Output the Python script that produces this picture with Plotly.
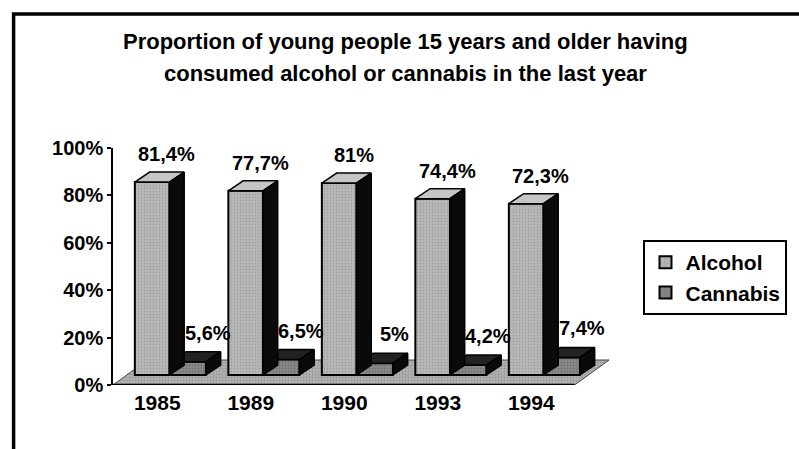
import plotly.graph_objects as go

# Survey results: share of people aged 15+ who used each substance in the past year (%)
years = ["1985", "1989", "1990", "1993", "1994"]
alcohol = [81.4, 77.7, 81.0, 74.4, 72.3]
cannabis = [5.6, 6.5, 5.0, 4.2, 7.4]
alcohol_labels = ["81,4%", "77,7%", "81%", "74,4%", "72,3%"]
cannabis_labels = ["5,6%", "6,5%", "5%", "4,2%", "7,4%"]
y_ticks = [0, 20, 40, 60, 80, 100]
y_tick_text = ["0%", "20%", "40%", "60%", "80%", "100%"]

FONT = "Liberation Sans, Arial, sans-serif"

# ---- page geometry (pixels) ----
W, H = 799, 449
PLOT_L, PLOT_R, PLOT_T, PLOT_B = 113, 620, 148, 385
CAT0_PX, CAT_STEP_PX = 158, 95          # pixel of first category, spacing
X_MIN = (PLOT_L - CAT0_PX) / CAT_STEP_PX
X_MAX = (PLOT_R - CAT0_PX) / CAT_STEP_PX
Y_PER_PX = 100 / (PLOT_B - PLOT_T)

# pseudo-3D projection: bars sit back from the front edge of the floor
LIFT = 10 * Y_PER_PX                    # front base of bars above the axis baseline
DX = 15 / CAT_STEP_PX                   # bar depth, horizontal
DY = 10 * Y_PER_PX                      # bar depth, vertical
FLOOR_DX = 35 / CAT_STEP_PX
FLOOR_DY = 25 * Y_PER_PX
FLOOR_RIGHT = (582 - CAT0_PX) / CAT_STEP_PX

BAR_W = 0.37
ALC_OFF = -0.24
CAN_OFF = 0.15

ALC_FRONT, ALC_TOP, ALC_SIDE = "#bababa", "#c6c6c6", "#0a0a0a"
CAN_FRONT, CAN_TOP, CAN_SIDE = "#8a8a8a", "#222222", "#0a0a0a"
FLOOR = "#b2b2b2"


def px_x(px):
    return (px - PLOT_L) / (PLOT_R - PLOT_L)


def px_y(py):
    return (PLOT_B - py) / (PLOT_B - PLOT_T)


def faces(values, off):
    """Side and top parallelograms of each bar, joined with gaps."""
    sx, sy, tx, ty = [], [], [], []
    for i, v in enumerate(values):
        left = i + off
        right = left + BAR_W
        sx += [right, right + DX, right + DX, right, right, None]
        sy += [0, DY, v + DY, v, 0, None]
        tx += [left, left + DX, right + DX, right, left, None]
        ty += [v, v + DY, v + DY, v, v, None]
    return sx, sy, tx, ty


def stipple(bg, fg):
    return dict(shape=".", fgcolor=fg, bgcolor=bg, size=3, solidity=0.3)


xs = list(range(len(years)))
fig = go.Figure()

# floor slab on the base axis, so the bar layer (overlaid axis) sits above it
fig.add_trace(go.Scatter(
    x=[X_MIN, FLOOR_RIGHT, FLOOR_RIGHT + FLOOR_DX, X_MIN + FLOOR_DX, X_MIN],
    y=[0, 0, FLOOR_DY, FLOOR_DY, 0],
    mode="lines", fill="toself", fillcolor=FLOOR,
    fillpattern=stipple(FLOOR, "#7a7a7a"),
    line=dict(color="#444444", width=1), showlegend=False, hoverinfo="skip",
))
fig.add_trace(go.Scatter(
    x=[X_MIN, FLOOR_RIGHT], y=[0, 0], mode="lines",
    line=dict(color="black", width=2.5), showlegend=False, hoverinfo="skip",
))

fig.add_trace(go.Bar(
    x=xs, y=alcohol, name="Alcohol", yaxis="y2",
    offset=ALC_OFF, width=BAR_W, legendgroup="a",
    marker=dict(color=ALC_FRONT, line=dict(color="black", width=2),
                pattern=stipple(ALC_FRONT, "#858585")),
    hoverinfo="skip",
))
fig.add_trace(go.Bar(
    x=xs, y=cannabis, name="Cannabis", yaxis="y2",
    offset=CAN_OFF, width=BAR_W, legendgroup="c",
    marker=dict(color=CAN_FRONT, line=dict(color="black", width=2),
                pattern=stipple(CAN_FRONT, "#555555")),
    hoverinfo="skip",
))

# depth faces: cannabis first so the alcohol side face overlaps it
for values, off, top_col, side_col in [(cannabis, CAN_OFF, CAN_TOP, CAN_SIDE),
                                       (alcohol, ALC_OFF, ALC_TOP, ALC_SIDE)]:
    sx, sy, tx, ty = faces(values, off)
    fig.add_trace(go.Scatter(x=tx, y=ty, yaxis="y2", mode="lines", fill="toself",
                             fillcolor=top_col, line=dict(color="black", width=1.5),
                             showlegend=False, hoverinfo="skip"))
    fig.add_trace(go.Scatter(x=sx, y=sy, yaxis="y2", mode="lines", fill="toself",
                             fillcolor=side_col, line=dict(color="black", width=1.5),
                             showlegend=False, hoverinfo="skip"))

annotations = []
for i, (v, t) in enumerate(zip(alcohol, alcohol_labels)):
    annotations.append(dict(x=i + ALC_OFF + BAR_W / 2 + DX, y=v + DY, xref="x", yref="y2",
                            text=t, showarrow=False, yanchor="bottom", yshift=5,
                            font=dict(family=FONT, size=20, color="black", weight="bold")))
for i, (v, t) in enumerate(zip(cannabis, cannabis_labels)):
    annotations.append(dict(x=i + CAN_OFF + BAR_W / 2 + DX * 1.3, y=v + DY, xref="x", yref="y2",
                            text=t, showarrow=False, yanchor="bottom", yshift=6,
                            font=dict(family=FONT, size=20, color="black", weight="bold")))

title_lines = ["Proportion of young people 15 years and older having",
               "consumed alcohol or cannabis in the last year"]
for line, py in zip(title_lines, [42, 73]):
    annotations.append(dict(x=px_x(410), y=px_y(py), xref="paper", yref="paper",
                            text=line, showarrow=False, xanchor="center", yanchor="middle",
                            font=dict(family=FONT, size=22, color="black", weight="bold")))

shapes = [
    dict(type="rect", x0=px_x(12), y0=px_y(14), x1=px_x(812), y1=px_y(470),
         xref="paper", yref="paper", line=dict(color="black", width=3.5)),
]

fig.update_layout(
    width=W, height=H,
    margin=dict(l=PLOT_L, r=W - PLOT_R, t=PLOT_T, b=H - PLOT_B, pad=0),
    paper_bgcolor="white", plot_bgcolor="rgba(0,0,0,0)",
    barmode="overlay",
    font=dict(family=FONT, color="black"),
    xaxis=dict(range=[X_MIN, X_MAX], tickmode="array", tickvals=xs, ticktext=years,
               showgrid=False, zeroline=False, showline=False, ticks="",
               ticklabelstandoff=3,
               tickfont=dict(family=FONT, size=21, color="black", weight="bold")),
    yaxis=dict(range=[0, 100], tickmode="array", tickvals=y_ticks, ticktext=y_tick_text,
               showgrid=False, zeroline=False, showline=True, linecolor="black",
               linewidth=1.5, ticks="outside", ticklen=4, tickwidth=1.5,
               tickcolor="black", ticklabelstandoff=0,
               tickfont=dict(family=FONT, size=20, color="black", weight="bold")),
    yaxis2=dict(range=[-LIFT, 100 - LIFT], overlaying="y", visible=False),
    legend=dict(x=px_x(652), y=px_y(240), xanchor="left", yanchor="top",
                bordercolor="black", borderwidth=2, bgcolor="white",
                itemwidth=30, tracegroupgap=3, traceorder="normal",
                font=dict(family=FONT, size=21, color="black", weight="bold")),
    annotations=annotations,
    shapes=shapes,
    showlegend=True,
)

fig.write_html("out.html", config={"displayModeBar": False})
